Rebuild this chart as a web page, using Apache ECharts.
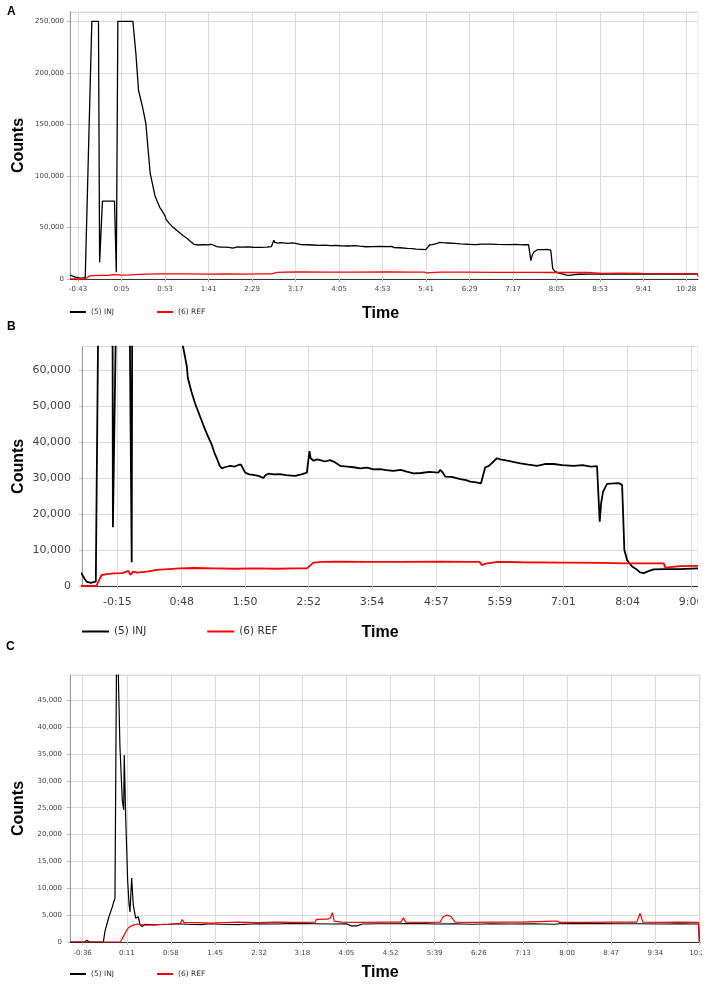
<!DOCTYPE html>
<html><head><meta charset="utf-8">
<script src="https://cdn.jsdelivr.net/npm/echarts@6/dist/echarts.min.js"></script>
<style>
body{margin:0;background:#fff;width:708px;height:987px;position:relative;overflow:hidden}
.p{position:absolute;left:0}
</style>
</head><body>
<div id="pa" class="p" style="top:0;width:708px;height:320px"></div>
<div id="pb" class="p" style="top:320px;width:698px;height:320px"></div>
<div id="pc" class="p" style="top:640px;width:702px;height:347px"></div>
<script>
// ---------- data ----------
const seriesNames = ['(5) INJ', '(6) REF'];
const panelLetters = ['A', 'B', 'C'];
const xTitle = 'Time';
const yTitle = 'Counts';

// tick positions (seconds) of the time axes
const ticksA = [-43, 5, 53, 101, 149, 197, 245, 293, 341, 389, 437, 485, 533, 581, 628];
const ticksB = [-15, 48, 110, 172, 234, 297, 359, 421, 484, 546];
const ticksC = [-36, 11, 58, 105, 152, 198, 245, 292, 339, 386, 433, 480, 527, 574, 621];

// experiment 1 (panels A and B): INJ trace
const injAB_t = [-52, -50, -47, -45, -41, -38, -36, -35.2, -27.9, -20.6, -19.3, -16.2, -2.9, -0.9, 0.8, 17.4,
  20.7, 23.6, 28, 31.7, 36.5, 42, 47, 50, 53, 54, 57.5, 61, 65, 69, 73, 77.4, 80, 82.2, 85, 87.1, 90, 95.3, 100,
  104, 106, 110, 114, 118, 123, 127.8, 130, 132.7, 138, 144, 150, 155, 158.9, 165, 170.3, 172.9, 174, 175.2, 177,
  180, 183.3, 188, 193, 197, 202.9, 210, 216, 222.5, 229, 235.5, 242, 248, 255, 262, 268, 274.6, 282, 290, 299,
  300.7, 303, 305.6, 312, 320.3, 326, 330, 336, 340.5, 344.7, 348, 352.9, 356, 359.4, 365, 372, 379, 387, 395.3,
  403, 411.6, 420, 431.1, 440, 448, 454, 455.5, 456.6, 458, 459.9, 463.8, 470, 475.2, 478.5, 480.7, 483.4, 488.3,
  493.2, 496, 499.6, 505, 509.4, 520, 535, 553, 570, 590, 610, 630, 641];
const injAB_v = [3900, 3500, 2000, 1200, 900, 1100, 1200, 1300, 250000, 250000, 16300, 75600, 75600, 6600, 250000, 250000,
  218700, 183100, 167000, 150900, 102400, 80000, 69500, 65500, 61000, 57800, 54000, 50800, 47800, 44800, 42000, 39200, 37000, 35500, 33500, 32700, 33000, 33400, 33200,
  33700, 33700, 31500, 31000, 30900, 30600, 30000, 30800, 31200, 31000, 31100, 30800, 30700, 30600, 31000, 31500, 37500, 35500, 36000, 34800,
  35200, 35000, 34600, 35000, 34500, 33400, 33200, 33000, 32700, 32900, 32400, 32500, 32200, 32000, 32300, 31800, 31300, 31400, 31700, 31500,
  32300, 31600, 30400, 30300, 29700, 29400, 29000, 28800, 28500, 33000, 33300, 34600, 35500, 35200, 34900, 34500, 34100, 33700, 33400,
  33900, 33900, 33600, 33400, 33600, 33200, 33300, 32900, 17900, 23000, 26200, 28400, 28500, 28600, 28100, 10000, 7200, 5400,
  4500, 3800, 3600, 4200, 4600, 4700, 4700, 4900, 4700, 4700, 4800, 4900, 4700];

// experiment 1 (panels A and B): REF trace
const refAB_t = [-52, -35.5, -33, -30.3, -25, -18.9, -10, -4.2, -2.2, 0.6, 5, 13.8, 23.5, 35, 46.3, 60, 80, 100, 120, 140,
  160, 170.3, 172, 176.8, 185, 200, 230, 260, 300, 330, 339, 341.5, 345, 357, 380, 420, 460, 481, 500, 519.2, 520.8,
  535, 553.4, 580, 610, 635, 640, 641];
const refAB_v = [0, 0, 1500, 3060, 3300, 3500, 3600, 4200, 3100, 4000, 3700, 4000, 4500, 4700, 4900, 5000, 4900, 4800, 4900, 4800,
  4900, 4900, 5000, 6500, 6700, 6800, 6700, 6700, 6800, 6700, 6700, 5800, 6200, 6700, 6600, 6500, 6400, 6300, 6300, 6300, 5100,
  5500, 5600, 5400, 5300, 5200, 5200, 2500];

// experiment 2 (panel C): INJ trace
const injC_t = [-49.5, -34, -31.7, -29, -14, -12.2, -10.5, -8, -6.2, -4.5, -3.4, -1.6, 0.4, 2.0, 3.7, 6.2, 7.7, 8.3, 9.8,
  11.9, 13.4, 14.4, 16.2, 17.9, 20.5, 23.2, 25.1, 27.5, 30.4, 40, 55, 65, 75, 90, 100, 110, 130, 150, 170, 190, 210,
  230, 245, 250, 256, 262, 280, 300, 320, 340, 360, 380, 400, 420, 445, 466, 468, 472, 500, 530, 555, 580, 600, 620, 621];
const injC_v = [0, 0, 300, 50, 0, 2050, 1800, 4700, 5000, 6500, 7200, 8100, 62000, 62000, 36400, 26400, 24600, 34800, 23300,
  11500, 7000, 5600, 11900, 6900, 4400, 4700, 3200, 2900, 3300, 3200, 3300, 3400, 3300, 3250, 3400, 3300, 3250, 3400, 3350, 3450, 3400,
  3350, 3400, 3000, 3000, 3350, 3400, 3400, 3450, 3350, 3400, 3300, 3400, 3350, 3400, 3300, 3150, 3400, 3450, 3400, 3400, 3350, 3400, 3350, 0];

// experiment 2 (panel C): REF trace
const refC_t = [-49.5, 3.7, 5.5, 7.3, 10.9, 13, 16.2, 21.5, 25, 30, 40, 50, 60, 68, 70, 72, 85, 100, 115, 130, 150, 170, 190,
  212, 213, 225, 228, 230, 232, 240, 260, 290, 303, 305.6, 308, 330, 344.7, 348, 351.9, 356, 360.7, 380, 400, 430, 466,
  469.5, 472, 500, 530, 554.3, 557.8, 560.7, 580, 600, 620, 621];
const refC_v = [0, 0, 400, 1000, 2200, 2700, 3000, 3350, 3300, 3150, 3200, 3300, 3350, 3400, 4200, 3600, 3600, 3500, 3600, 3700, 3600, 3700, 3650,
  3700, 4200, 4250, 4500, 5460, 3900, 3700, 3650, 3700, 3700, 4500, 3700, 3650, 3700, 4700, 5000, 4800, 3700, 3650, 3700, 3700, 3900,
  3900, 3650, 3650, 3700, 3700, 5340, 3700, 3650, 3700, 3650, 0];

// ---------- helpers ----------
function zip(t, v) { return t.map((x, i) => [x, v[i]]); }
function fmtTime(s) {
  const neg = s < 0; const a = Math.abs(Math.round(s));
  return (neg ? '-' : '') + Math.floor(a / 60) + ':' + String(a % 60).padStart(2, '0');
}
function fmtNum(v) { return String(Math.round(v)).replace(/\B(?=(\d{3})+(?!\d))/g, ','); }

function makeOption(c) {
  const sans = 'DejaVu Sans';
  const bold = '"Liberation Sans", Arial, sans-serif';
  return {
    animation: false,
    backgroundColor: '#fff',
    graphic: [{ type: 'text', left: c.letterPos[0], top: c.letterPos[1],
      style: { text: c.letter, font: 'bold 12px "Liberation Sans", Arial, sans-serif', fill: '#000' } }],
    legend: {
      left: c.legend.left, top: c.legend.top, icon: 'rect', padding: 0,
      itemWidth: c.legend.w, itemHeight: 2, itemGap: c.legend.gap,
      textStyle: { fontFamily: sans, fontSize: c.legend.fs, color: '#333' },
      data: seriesNames
    },
    grid: { left: c.grid[0], top: c.grid[1], width: c.grid[2], height: c.grid[3],
      outerBoundsMode: 'none', containLabel: false,
      show: true, borderColor: '#e4e4e4', borderWidth: 1, backgroundColor: 'transparent' },
    xAxis: {
      type: 'value', min: c.xmin, max: c.xmax,
      name: xTitle, nameLocation: 'middle', nameGap: c.xNameGap,
      nameTextStyle: { fontFamily: bold, fontWeight: 'bold', fontSize: 16, color: '#000',
        padding: [0, c.xNameShift, 0, 0] },
      axisLine: { show: true, onZero: false, lineStyle: { color: '#333', width: 1 } },
      axisTick: { show: true, length: 3, lineStyle: { color: '#bbb' }, customValues: c.ticks },
      axisLabel: { customValues: c.ticks, formatter: fmtTime, fontFamily: sans, fontSize: c.fs, color: '#444', margin: c.xLabelMargin },
      splitLine: { show: true, lineStyle: { color: '#dcdcdc', width: 1 } }
    },
    yAxis: {
      type: 'value', min: 0, max: c.ymax, interval: c.yint,
      name: yTitle, nameLocation: 'middle', nameGap: c.yNameGap, nameRotate: 90, nameMoveOverlap: false,
      nameTextStyle: { fontFamily: bold, fontWeight: 'bold', fontSize: 16, color: '#000' },
      axisLine: { show: true, onZero: false, lineStyle: { color: '#999', width: 1 } },
      axisTick: { show: true, length: 3, lineStyle: { color: '#bbb' } },
      axisLabel: { formatter: fmtNum, fontFamily: sans, fontSize: c.fs, color: '#444', margin: c.yLabelMargin, showMaxLabel: false },
      splitLine: { show: true, lineStyle: { color: '#dcdcdc', width: 1 } }
    },
    series: [
      { name: seriesNames[0], type: 'line', data: zip(c.inj[0], c.inj[1]), showSymbol: false, symbol: 'none',
        color: '#000', lineStyle: { color: '#000', width: c.lw } },
      { name: seriesNames[1], type: 'line', data: zip(c.ref[0], c.ref[1]), showSymbol: false, symbol: 'none',
        color: '#ff0000', lineStyle: { color: '#ff0000', width: c.lw } }
    ]
  };
}

const panels = [
  { id: 'pa', letter: panelLetters[0], letterPos: [7, 6], grid: [70, 12, 628, 267], xmin: -52, xmax: 641,
    ymax: 259000, yint: 50000, ticks: ticksA, fs: 7, lw: 1.3, inj: [injAB_t, injAB_v], ref: [refAB_t, refAB_v],
    xNameGap: 27, xNameShift: 7, yNameGap: 43, xLabelMargin: 7, yLabelMargin: 6,
    legend: { left: 70, top: 308, w: 16, gap: 43, fs: 7.5 } },
  { id: 'pb', letter: panelLetters[1], letterPos: [7, 1], grid: [82, 26.7, 616, 239.3], xmin: -49.5, xmax: 552.7,
    ymax: 66500, yint: 10000, ticks: ticksB, fs: 11, lw: 1.8, inj: [injAB_t, injAB_v], ref: [refAB_t, refAB_v],
    xNameGap: 39, xNameShift: 20, yNameGap: 55, xLabelMargin: 11, yLabelMargin: 11,
    legend: { left: 82, top: 306, w: 27, gap: 61, fs: 10.5 } },
  { id: 'pc', letter: panelLetters[2], letterPos: [6, 1], grid: [70, 35, 630, 267], xmin: -49.5, xmax: 621.6,
    ymax: 49700, yint: 5000, ticks: ticksC, fs: 7, lw: 1.2, inj: [injC_t, injC_v], ref: [refC_t, refC_v],
    xNameGap: 23, xNameShift: 10, yNameGap: 43, xLabelMargin: 8, yLabelMargin: 8,
    legend: { left: 70, top: 330, w: 16, gap: 43, fs: 7.5 } }
];

panels.forEach(p => {
  const chart = echarts.init(document.getElementById(p.id), null, { renderer: 'canvas' });
  chart.setOption(makeOption(p));
});
</script>
</body></html>
